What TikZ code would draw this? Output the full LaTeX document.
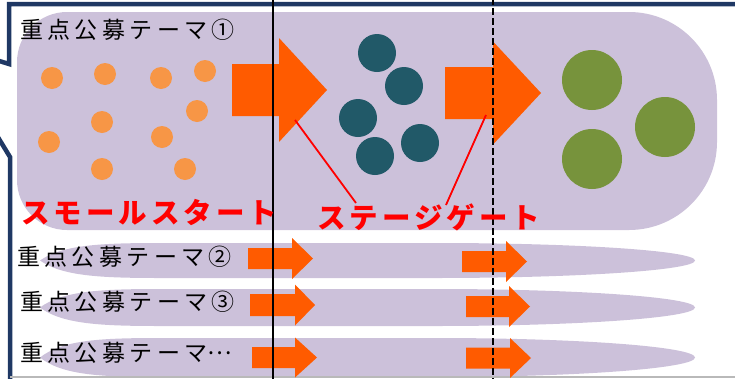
\documentclass[tikz,border=0pt]{standalone}
\usepackage{fontspec}
\newfontfamily\themefont{Noto Sans CJK JP}[LetterSpace=19]
\newfontfamily\labelfont{Noto Sans CJK JP}[LetterSpace=14]
\definecolor{bandfill}{HTML}{CCC1DA}
\definecolor{flow}{HTML}{FF5B00}
\definecolor{seed}{HTML}{F79646}
\definecolor{sprout}{HTML}{215968}
\definecolor{crop}{HTML}{77933C}
\definecolor{framecol}{HTML}{1F3864}
\definecolor{alert}{HTML}{FF0000}

% block arrow: tail x, head base x, tip x, centre y, body half height, head half height
\newcommand\blockarrow[6]{%
  \fill[flow] (#1,#4-#5) -- (#2,#4-#5) -- (#2,#4-#6) -- (#3,#4)
    -- (#2,#4+#6) -- (#2,#4+#5) -- (#1,#4+#5) -- cycle;}

% tapered band for a minor theme: top y, bottom y
\newcommand\themeband[2]{%
  \fill[bandfill] (40,{(#1+#2)/2})
    .. controls (62,#1+2) and (100,#1) .. (160,#1) -- (435,#1)
    .. controls (579,#1) and (695,{(#1+#2)/2-0.276*(#2-#1)}) .. (695,{(#1+#2)/2})
    .. controls (695,{(#1+#2)/2+0.276*(#2-#1)}) and (579,#2) .. (435,#2)
    -- (160,#2) .. controls (100,#2) and (62,#2-2) .. (40,{(#1+#2)/2}) -- cycle;}

% ellipsis set at mid height, as in Japanese typesetting
\newcommand\midellipsis{\raisebox{0.3em}{…}}

\tikzset{
  theme/.style={anchor=west, inner sep=0pt, font=\themefont\fontsize{23}{25}\selectfont},
  redlabel/.style={anchor=west, inner sep=0pt, text=alert,
    font=\labelfont\bfseries\fontsize{28.5}{30}\selectfont},
  frameline/.style={draw=framecol, line width=4.5pt, line join=miter},
  pointer/.style={draw=alert, line width=1.8pt},
  seeddot/.style={fill=seed},
  sproutdot/.style={fill=sprout},
  cropdot/.style={fill=crop}
}

\begin{document}
\begin{tikzpicture}[x=1pt,y=-1pt]
\useasboundingbox (0,0) rectangle (735,378);
\clip (0,0) rectangle (735,378);

% main theme band
\fill[bandfill] (367,12) [rounded corners=88pt] -- (717,12) -- (717,230) -- (367,230)
  [rounded corners=50pt] -- (17,230) -- (17,12) -- cycle;

% minor theme bands
\themeband{243}{278}
\themeband{289}{326}
\themeband{338}{377}

% callout frame
\draw[frameline] (740,4) -- (9,4) -- (9,64) -- (-4,60);
\draw[frameline] (-4,134) -- (10,157) -- (10,382);
\draw[gray!55, line width=1.2pt] (10,377) -- (740,377);

% small starts
\foreach \x/\y in {52/78, 105/74, 161/78, 205/71, 197/111, 102/122,
                   49/142, 162/137, 102/169, 185/169}
  \fill[seeddot] (\x,\y) circle (11);

% projects after the first gate
\foreach \x/\y in {377/53, 404/86, 358/118, 420/143, 375/156}
  \fill[sproutdot] (\x,\y) circle (19);

% projects after the second gate
\foreach \x/\y in {592/80, 665/127, 592/159}
  \fill[cropdot] (\x,\y) circle (30);

% stage arrows
\blockarrow{232}{279}{327}{90}{26}{52}
\blockarrow{445}{493}{541}{93}{26}{51.5}
\blockarrow{248}{292}{313}{258.5}{10.5}{20.5}
\blockarrow{462}{506}{527}{261.5}{10.5}{20.5}
\blockarrow{250}{295}{315}{305}{11}{20.5}
\blockarrow{466}{509}{530}{306.5}{10.5}{20.5}
\blockarrow{252}{295}{317}{357.5}{10.5}{20}
\blockarrow{466}{510}{531}{358}{10.5}{20}

% gate lines
\draw[black, line width=1.2pt] (273,-2) -- (273,380);
\draw[black, line width=1.2pt, dash pattern=on 7pt off 3pt] (493,-2) -- (493,380);

% theme titles
\node[theme] (t1) at (20,30) {重点公募テーマ①};
\node[theme] (t2) at (17,257) {重点公募テーマ②};
\node[theme] (t3) at (20,302) {重点公募テーマ③};
\node[theme] (t4) at (20,353) {重点公募テーマ\midellipsis};

% stage labels
\node[redlabel] (small) at (21,212) {スモールスタート};
\node[redlabel] (gate) at (317,217) {ステージゲート};

% pointers from the gates to the label
\coordinate (g1) at (295,120);
\coordinate (g1end) at (356,203);
\coordinate (g2) at (486,115);
\coordinate (g2end) at (446,205);
\draw[pointer] (g1) -- (g1end);
\draw[pointer] (g2) -- (g2end);
\end{tikzpicture}
\end{document}
